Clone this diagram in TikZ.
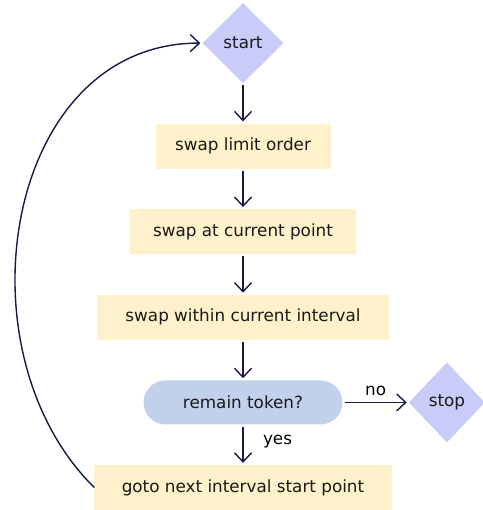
\documentclass[tikz,border=0pt]{standalone}
\usepackage{fontspec}
\setmainfont{DejaVu Sans}
\usetikzlibrary{matrix,arrows.meta,positioning,shapes.geometric}
\definecolor{termfill}{RGB}{201,204,248}
\definecolor{taskfill}{RGB}{255,241,201}
\definecolor{askfill}{RGB}{193,208,235}
\definecolor{linkcol}{RGB}{26,24,72}
\tikzset{
  terminal/.style={shape=diamond, fill=termfill, inner sep=0pt, minimum height=80pt},
  task/.style={fill=taskfill, minimum height=45pt},
  ask/.style={fill=askfill, rounded corners=22pt, minimum height=44pt},
  flow/.style={draw=linkcol, line width=1.4pt, -{Straight Barb[length=9pt,width=17pt]}, shorten <=2pt, shorten >=2pt}
}
\begin{document}
\begin{tikzpicture}[x=1pt, y=-1pt, font=\fontsize{16.8pt}{20pt}\selectfont]
  \useasboundingbox (0,0) rectangle (482,510);
  \matrix (f) [matrix of nodes, row sep=40.6pt, inner sep=0pt, anchor=north, nodes={text=black!90}] at (243,3)
  {
|[terminal, minimum width=81pt]| start \\
|[task, minimum width=175pt]| swap limit order \\
|[task, minimum width=226pt]| swap at current point \\
|[task, minimum width=291pt]| swap within current interval \\
|[ask, minimum width=199pt]| remain token? \\
|[task, minimum width=297pt]| goto next interval start point \\
};
  \node (stop) [terminal, minimum width=76pt, right=66pt of f-5-1, text=black!90] {stop};
  \path[flow]
  (f-1-1) edge (f-2-1)
  (f-2-1) edge (f-3-1)
  (f-3-1) edge (f-4-1)
  (f-4-1) edge (f-5-1)
  (f-5-1) edge node [right=16pt, yshift=3.5pt] {yes} (f-6-1)
  (f-5-1) edge node [above=3pt] {no} (stop);
  \draw[flow, shorten <=0pt] (f-6-1.west) .. controls (-45,350) and (5,43) .. (f-1-1.west);
\end{tikzpicture}
\end{document}
